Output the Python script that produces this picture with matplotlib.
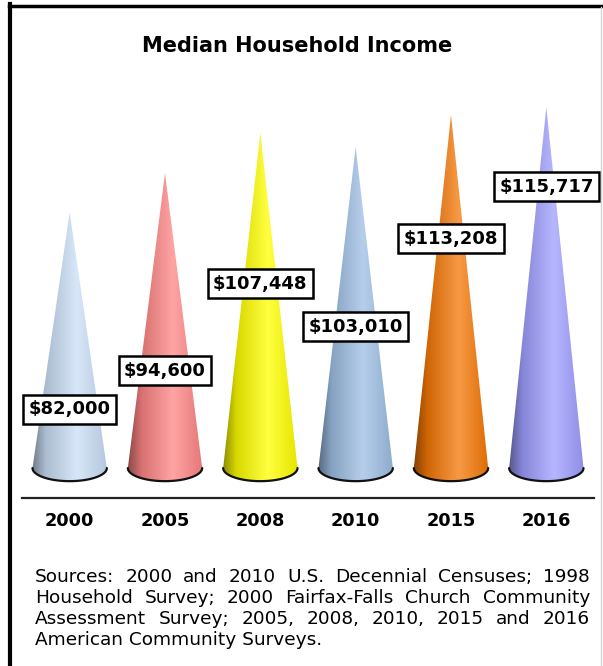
import matplotlib
matplotlib.use("Agg")
import matplotlib.pyplot as plt
import numpy as np
from matplotlib.path import Path
from matplotlib.patches import PathPatch
from matplotlib.lines import Line2D
from matplotlib.colors import to_rgb, LinearSegmentedColormap

# data
years = ["2000", "2005", "2008", "2010", "2015", "2016"]
income = [82000, 94600, 107448, 103010, 113208, 115717]
value_labels = ["$82,000", "$94,600", "$107,448", "$103,010", "$113,208", "$115,717"]
cone_colors = ["#CADEF6", "#FF8585", "#FFFF00", "#9EBEE4", "#F57806", "#9E9EFF"]
label_frac = [0.23, 0.33, 0.55, 0.44, 0.65, 0.78]  # where the label sits along the cone
source_lines = [
    "Sources: 2000 and 2010 U.S. Decennial Censuses; 1998",
    "Household Survey; 2000 Fairfax-Falls Church Community",
    "Assessment Survey; 2005, 2008, 2010, 2015 and 2016",
    "American Community Surveys.",
]

W, H = 603, 666
fig = plt.figure(figsize=(W / 100, H / 100), dpi=100)
fig.patch.set_facecolor("white")

ax = fig.add_axes([22 / W, (H - 498) / H, 572 / W, 398 / H])
ax.set_facecolor("none")

hw = 0.39     # half width of the cone base (category units)
eh = 4200     # half height of the base ellipse (dollars)

for i, (v, c) in enumerate(zip(income, cone_colors)):
    t = np.linspace(0, -np.pi, 60)
    ell_x = i + hw * np.cos(t)
    ell_y = eh * np.sin(t)
    verts = [(i - hw, 0), (i, v), (i + hw, 0)] + list(zip(ell_x, ell_y)) + [(i - hw, 0)]
    codes = [Path.MOVETO] + [Path.LINETO] * (len(verts) - 2) + [Path.CLOSEPOLY]
    patch = PathPatch(Path(verts, codes), fc="none", ec="none")
    ax.add_patch(patch)

    base = np.array(to_rgb(c))
    dark = base * 0.55
    mid = base * 0.85
    light = base + (1 - base) * 0.25
    edge = base * 0.9
    cmap = LinearSegmentedColormap.from_list(
        "cone%d" % i, [(0, dark), (0.18, mid), (0.6, light), (1, edge)])
    grad = np.linspace(0, 1, 256).reshape(1, -1)
    im = ax.imshow(grad, cmap=cmap, aspect="auto", extent=[i - hw, i + hw, -eh, v],
                   interpolation="bilinear", zorder=2)
    im.set_clip_path(patch)
    ax.plot(ell_x, ell_y, color="#111111", lw=1.6, zorder=3, solid_capstyle="round")

    ax.text(i, label_frac[i] * v, value_labels[i], ha="center", va="center",
            fontsize=13, fontweight="bold", zorder=5,
            bbox=dict(boxstyle="square,pad=0.3", fc="white", ec="black", lw=1.8))

ax.set_xlim(-0.5, 5.5)
ax.set_ylim(-9600, 118000)
for s in ["top", "left", "right"]:
    ax.spines[s].set_visible(False)
ax.spines["bottom"].set_linewidth(1.6)
ax.spines["bottom"].set_color("#222222")
ax.set_yticks([])
ax.set_xticks(range(len(years)), years, fontsize=12.8, fontweight="bold")
ax.tick_params(axis="x", length=0, pad=10)

fig.text(297 / W, 1 - 46 / H, "Median Household Income", ha="center", va="center",
         fontsize=15, fontweight="bold")

# justified source note
renderer = fig.canvas.get_renderer()
x0, x1 = 35, 590
fs = 13.3
for k, line in enumerate(source_lines):
    y = 1 - (582 + 21 * k) / H
    if k == len(source_lines) - 1:
        fig.text(x0 / W, y, line, ha="left", va="baseline", fontsize=fs)
        continue
    words = line.split()
    texts = [fig.text(0, y, w_, ha="left", va="baseline", fontsize=fs) for w_ in words]
    widths = [t_.get_window_extent(renderer).width for t_ in texts]
    gap = (x1 - x0 - sum(widths)) / (len(words) - 1)
    x = x0
    for t_, wd in zip(texts, widths):
        t_.set_x(x / W)
        x += wd + gap

# frame
fig.add_artist(Line2D([10 / W, 10 / W], [0, 1 - 4 / H], color="black", lw=3,
                      transform=fig.transFigure))
fig.add_artist(Line2D([8.5 / W, 1], [1 - 5.5 / H, 1 - 5.5 / H], color="black", lw=2.5,
                      transform=fig.transFigure))
fig.add_artist(Line2D([601 / W, 601 / W], [0, 1 - 7 / H], color="#D5D5D5", lw=1,
                      transform=fig.transFigure))

fig.savefig("out.png", dpi=100)
